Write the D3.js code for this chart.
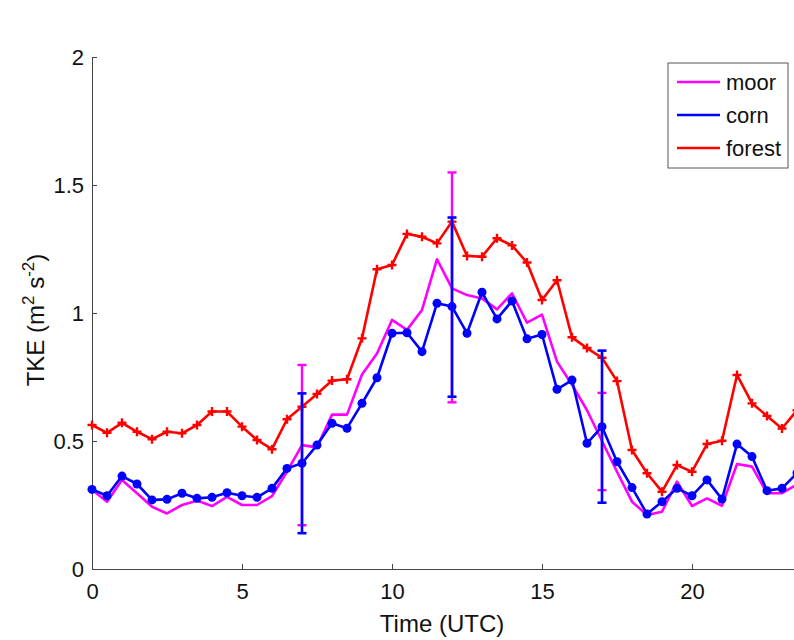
<!DOCTYPE html>
<html>
<head>
<meta charset="utf-8">
<script src="https://cdn.jsdelivr.net/npm/d3@7"></script>
<style>
  body { margin: 0; background: #fff; }
  svg { display: block; font-family: "Liberation Sans", Arial, sans-serif; }
</style>
</head>
<body>
<div id="chart"></div>
<script>
// half-hourly time steps (UTC)
var times = d3.range(0, 24, 0.5);

var moor = [0.31, 0.263, 0.348, 0.296, 0.243, 0.217, 0.25, 0.267, 0.246, 0.282,
            0.25, 0.25, 0.285, 0.38, 0.484, 0.475, 0.603, 0.603, 0.76, 0.842,
            0.973, 0.934, 1.012, 1.21, 1.096, 1.07, 1.057, 1.014, 1.077, 0.962,
            0.994, 0.81, 0.72, 0.62, 0.50, 0.38, 0.263, 0.211, 0.224, 0.341,
            0.246, 0.276, 0.247, 0.41, 0.40, 0.296, 0.296, 0.33];
var corn = [0.311, 0.286, 0.363, 0.332, 0.27, 0.272, 0.296, 0.276, 0.28, 0.298,
            0.286, 0.28, 0.315, 0.393, 0.413, 0.484, 0.569, 0.55, 0.647, 0.747,
            0.921, 0.923, 0.849, 1.038, 1.025, 0.921, 1.081, 0.977, 1.047, 0.899,
            0.916, 0.702, 0.738, 0.491, 0.556, 0.419, 0.318, 0.215, 0.263, 0.315,
            0.286, 0.348, 0.273, 0.488, 0.439, 0.306, 0.315, 0.375];
var forest = [0.5625, 0.532, 0.571, 0.536, 0.507, 0.536, 0.53, 0.5625, 0.615, 0.615,
              0.556, 0.504, 0.468, 0.585, 0.634, 0.684, 0.736, 0.741, 0.901, 1.171,
              1.1875, 1.309, 1.298, 1.272, 1.357, 1.223, 1.22, 1.292, 1.264, 1.197,
              1.051, 1.128, 0.905, 0.863, 0.825, 0.734, 0.465, 0.374, 0.302, 0.406,
              0.38, 0.488, 0.501, 0.758, 0.647, 0.598, 0.549, 0.62];

// error bars: time, centre, half-width
var moorErr = [{t: 7, v: 0.484, e: 0.313}, {t: 12, v: 1.10, e: 0.449}, {t: 17, v: 0.498, e: 0.19}];
var cornErr = [{t: 7, v: 0.413, e: 0.273}, {t: 12, v: 1.023, e: 0.35}, {t: 17, v: 0.556, e: 0.297}];

var xTicks = [0, 5, 10, 15, 20];
var yTicks = [0, 0.5, 1, 1.5, 2];
var names = ["moor", "corn", "forest"];
var colors = {moor: "#ff00ff", corn: "#0000ff", forest: "#ff0000"};

var W = 794, H = 640;
var margin = {top: 57, left: 92, bottom: 71};
var svg = d3.select("#chart").append("svg")
    .attr("width", W)
    .attr("height", H);

var x = d3.scaleLinear().domain([0, 24]).range([margin.left, margin.left + 720]);
var y = d3.scaleLinear().domain([0, 2]).range([H - margin.bottom, margin.top]);

// axes (ticks inward, matlab style)
var xAxis = svg.append("g")
    .attr("transform", "translate(0," + y(0) + ")")
    .call(d3.axisBottom(x).tickValues(xTicks).tickSizeInner(-5).tickSizeOuter(0).tickPadding(14));
var yAxis = svg.append("g")
    .attr("transform", "translate(" + x(0) + ",0)")
    .call(d3.axisLeft(y).tickValues(yTicks).tickFormat(d3.format("")).tickSizeInner(-5).tickSizeOuter(0).tickPadding(8));
[xAxis, yAxis].forEach(function(a) {
    a.select(".domain").attr("stroke", "#444").attr("stroke-width", 1);
    a.selectAll(".tick line").attr("stroke", "#444");
    a.selectAll(".tick text").attr("fill", "#111").style("font-size", "22px");
});

svg.append("text")
    .attr("x", 442).attr("y", 632)
    .attr("text-anchor", "middle")
    .style("font-size", "24px").attr("fill", "#111")
    .text("Time (UTC)");

var yl = svg.append("text")
    .attr("transform", "translate(44,320) rotate(-90)")
    .attr("text-anchor", "middle")
    .style("font-size", "24px").attr("fill", "#111");
yl.append("tspan").text("TKE (m");
yl.append("tspan").attr("dy", -10).style("font-size", "17px").text("2");
yl.append("tspan").attr("dy", 10).text(" s");
yl.append("tspan").attr("dy", -10).style("font-size", "17px").text("-2");
yl.append("tspan").attr("dy", 10).text(")");

var line = d3.line()
    .x(function(d) { return x(d.t); })
    .y(function(d) { return y(d.v); });

var series = {moor: moor, corn: corn, forest: forest};
names.forEach(function(n) {
    var pts = times.map(function(t, i) { return {t: t, v: series[n][i]}; });
    svg.append("path")
        .datum(pts)
        .attr("fill", "none")
        .attr("stroke", colors[n])
        .attr("stroke-width", 2.6)
        .attr("stroke-linejoin", "round")
        .attr("d", line);

    if (n == "corn") {
        svg.selectAll(".dot-corn")
            .data(pts).enter()
          .append("circle")
            .attr("class", "dot-corn")
            .attr("cx", function(d) { return x(d.t); })
            .attr("cy", function(d) { return y(d.v); })
            .attr("r", 4.5)
            .attr("fill", colors.corn);
    }
    if (n == "forest") {
        svg.selectAll(".plus-forest")
            .data(pts).enter()
          .append("path")
            .attr("class", "plus-forest")
            .attr("transform", function(d) { return "translate(" + x(d.t) + "," + y(d.v) + ")"; })
            .attr("d", "M-4.5,0H4.5M0,-4.5V4.5")
            .attr("stroke", colors.forest)
            .attr("stroke-width", 2.4);
    }
});

// error bars
function drawErr(data, col, w) {
    var g = svg.append("g").attr("stroke", col).attr("stroke-width", w);
    data.forEach(function(d) {
        var x0 = x(d.t), y1 = y(d.v + d.e), y2 = y(d.v - d.e);
        g.append("line").attr("x1", x0).attr("x2", x0).attr("y1", y1).attr("y2", y2);
        g.append("line").attr("x1", x0 - 4.5).attr("x2", x0 + 4.5).attr("y1", y1).attr("y2", y1);
        g.append("line").attr("x1", x0 - 4.5).attr("x2", x0 + 4.5).attr("y1", y2).attr("y2", y2);
    });
}
drawErr(moorErr, colors.moor, 2.4);
drawErr(cornErr, colors.corn, 2.6);

// legend
var lg = svg.append("g").attr("transform", "translate(668,63)");
lg.append("rect")
    .attr("width", 120).attr("height", 105)
    .attr("fill", "#fff").attr("stroke", "#555").attr("stroke-width", 1);
names.forEach(function(n, i) {
    var ly = 19 + i * 33;
    lg.append("line")
        .attr("x1", 9).attr("x2", 52).attr("y1", ly).attr("y2", ly)
        .attr("stroke", colors[n]).attr("stroke-width", 2.6);
    lg.append("text")
        .attr("x", 58).attr("y", ly + 8)
        .style("font-size", "22px").attr("fill", "#111")
        .text(n);
});
</script>
</body>
</html>
